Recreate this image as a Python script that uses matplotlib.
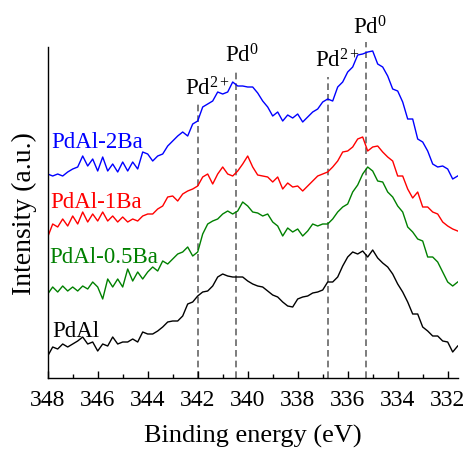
import numpy as np
import matplotlib
matplotlib.use("Agg")
import matplotlib.pyplot as plt
from matplotlib.ticker import MultipleLocator

plt.rcParams["font.family"] = ["Liberation Serif", "DejaVu Serif"]
plt.rcParams["mathtext.fontset"] = "custom"
plt.rcParams["mathtext.rm"] = "Liberation Serif"
plt.rcParams["mathtext.it"] = "Liberation Serif:italic"

# Pd 3d region, 0.2 eV steps from 348.0 down to 331.6 eV
energy = np.round(np.arange(348.0, 331.55, -0.2), 1)

# stacked spectra (offset already included), a.u.
pdal = [22, 31, 29, 34, 31, 34, 37, 41, 34, 36, 27, 34, 32, 41, 34, 36, 36, 39, 36, 46, 44, 44,
        47, 51, 56, 57, 57, 62, 74, 76, 82, 86, 87, 92, 101, 104, 102, 101, 101, 101, 97, 94,
        92, 91, 87, 83, 81, 76, 72, 71, 79, 81, 82, 85, 86, 88, 96, 96, 101, 112, 121, 126, 124,
        127, 121, 128, 120, 115, 111, 104, 94, 86, 76, 64, 64, 51, 47, 42, 42, 37, 36, 26, 32]
pdal_05ba = [84, 91, 86, 92, 87, 91, 87, 92, 89, 96, 91, 79, 99, 91, 99, 91, 109, 97, 106, 99, 106, 111,
             107, 117, 114, 119, 124, 126, 131, 122, 126, 144, 154, 157, 159, 164, 167, 164, 167, 176, 172, 166,
             165, 162, 164, 156, 152, 142, 150, 146, 149, 142, 147, 154, 152, 154, 154, 159, 166, 171, 174, 186, 193,
             204, 211, 207, 197, 196, 186, 181, 172, 166, 151, 146, 139, 137, 121, 121, 116, 106, 96, 92, 96]
pdal_1ba = [141, 154, 151, 159, 152, 162, 154, 166, 156, 164, 157, 166, 157, 162, 156, 161, 156, 159, 157, 162, 164, 164,
            169, 172, 181, 182, 177, 184, 187, 189, 192, 201, 204, 194, 204, 211, 204, 202, 207, 214, 222, 211,
            203, 202, 201, 196, 201, 189, 195, 191, 192, 187, 192, 197, 202, 204, 206, 211, 217, 226, 227, 231, 239,
            241, 227, 231, 232, 226, 221, 217, 202, 202, 189, 180, 186, 171, 171, 166, 164, 156, 152, 149, 147]
pdal_2ba = [204, 202, 204, 202, 206, 209, 211, 222, 212, 219, 207, 221, 207, 214, 206, 216, 207, 216, 209, 226, 224, 217,
            222, 224, 232, 237, 242, 246, 242, 254, 257, 271, 274, 277, 286, 284, 286, 296, 292, 292, 291, 291,
            285, 277, 271, 262, 266, 257, 263, 260, 264, 256, 261, 266, 269, 276, 279, 277, 291, 296, 306, 311, 323,
            324, 326, 327, 314, 311, 302, 289, 287, 276, 259, 259, 239, 236, 227, 214, 211, 212, 209, 199, 202]

series = [
    ("PdAl", pdal, "black"),
    ("PdAl-0.5Ba", pdal_05ba, "green"),
    ("PdAl-1Ba", pdal_1ba, "red"),
    ("PdAl-2Ba", pdal_2ba, "blue"),
]

# series label anchors (energy, intensity)
label_pos = {"PdAl": (347.8, 42), "PdAl-0.5Ba": (347.95, 116),
             "PdAl-1Ba": (347.9, 171), "PdAl-2Ba": (347.85, 231)}

# reference peak positions and how far up each marker goes
peak_pos = [342.0, 340.47, 336.78, 335.27]
peak_top = [277, 308, 301, 336]
peak_text = [("Pd$^{2+}$", 341.6, 284), ("Pd$^{0}$", 340.25, 317),
             ("Pd$^{2+}$", 336.43, 312), ("Pd$^{0}$", 335.1, 345)]

fig = plt.figure(figsize=(4.64, 4.52), dpi=100)
ax = fig.add_axes([0.1028, 0.1615, 0.8836, 0.7323])

for name, vals, color in series:
    ax.plot(energy, vals, color=color, lw=1.0)
    ex, ey = label_pos[name]
    ax.text(ex, ey, name, color=color, fontsize=16.5, ha="left", va="baseline")

for xp, top in zip(peak_pos, peak_top):
    ax.plot([xp, xp], [0, top], color="#666666", lw=1.2, dashes=(4.0, 2.4), clip_on=False, zorder=0)

for txt, tx, ty in peak_text:
    ax.text(tx, ty, txt, fontsize=16.5, ha="center", va="baseline", clip_on=False)

ax.set_xlim(348, 331.6)
ax.set_ylim(0, 331)
ax.xaxis.set_major_locator(MultipleLocator(2))
ax.xaxis.set_minor_locator(MultipleLocator(1))
ax.tick_params(axis="x", which="major", direction="in", length=5, width=1, labelsize=17, pad=8)
ax.tick_params(axis="x", which="minor", direction="in", length=3, width=1)
ax.set_yticks([])

for side in ["top", "right"]:
    ax.spines[side].set_visible(False)
for side in ["left", "bottom"]:
    ax.spines[side].set_linewidth(1.0)

ax.set_xlabel("Binding energy (eV)", fontsize=19, labelpad=10)
ax.set_ylabel("Intensity (a.u.)", fontsize=20, labelpad=8)

fig.savefig("out.png", dpi=100)
